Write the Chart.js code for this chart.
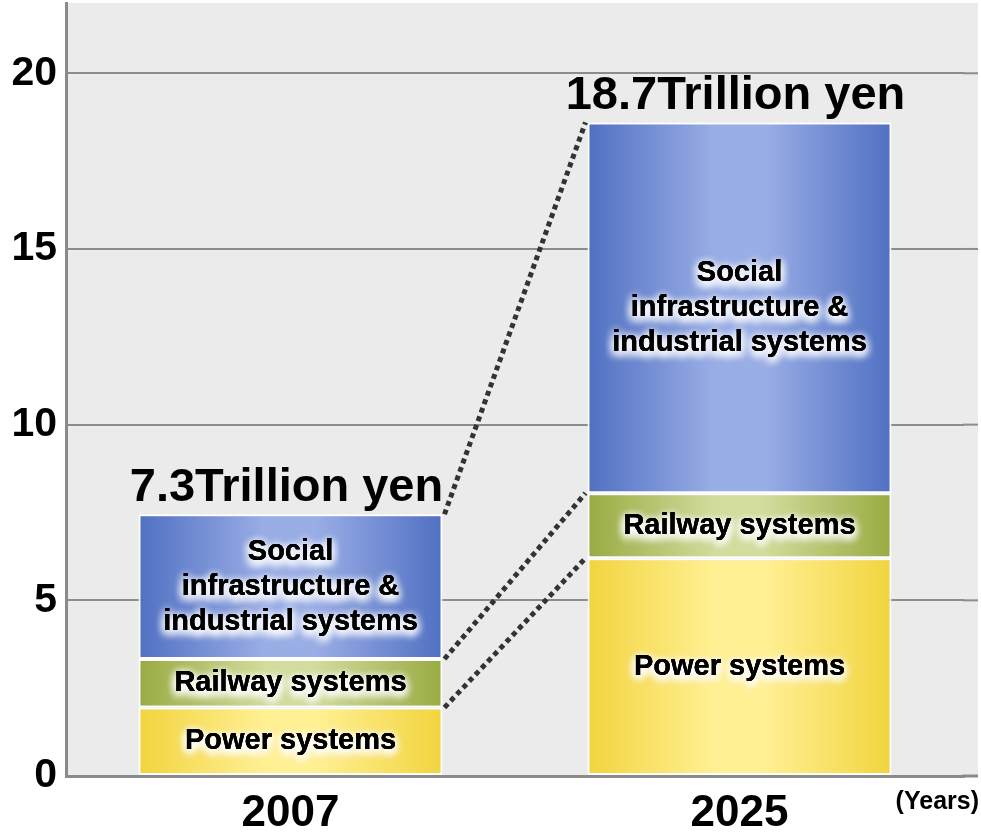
<!DOCTYPE html>
<html><head><meta charset="utf-8">
<script src="https://cdn.jsdelivr.net/npm/chart.js@4.4.1/dist/chart.umd.min.js"></script>
<style>html,body{margin:0;padding:0;background:#fff;}#wrap{width:981px;height:836px;position:relative;}</style>
</head><body><div id="wrap"><canvas id="c"></canvas></div>
<script>
const years = ['2007', '2025'];
const powerSystems = [1.95, 6.2];
const railwaySystems = [1.38, 1.85];
const socialInfra = [4.12, 10.55];
const totalLabels = ['7.3Trillion yen', '18.7Trillion yen'];
const segmentLabels = [['Power systems'], ['Railway systems'], ['Social', 'infrastructure &', 'industrial systems']];
const yTickValues = [0, 5, 10, 15, 20];
const yMax = 22;
const yearUnitLabel = '(Years)';

const FONT = '"Liberation Sans", Arial, Helvetica, sans-serif';
const BAR_PCT = 0.677;

function grad(edge, mid) {
  return (ctx) => {
    const chart = ctx.chart;
    const xs = chart.scales && chart.scales.x;
    if (!xs || !chart.chartArea || ctx.dataIndex === undefined || !xs.ticks || !xs.ticks.length) return edge;
    const cw = xs.width / xs.ticks.length;
    const half = cw * BAR_PCT / 2;
    const cx = xs.getPixelForValue(ctx.dataIndex);
    const g = chart.ctx.createLinearGradient(cx - half, 0, cx + half, 0);
    g.addColorStop(0, edge);
    g.addColorStop(0.42, mid);
    g.addColorStop(0.58, mid);
    g.addColorStop(1, edge);
    return g;
  };
}

const decor = {
  id: 'decor',
  beforeDraw(chart) {
    const {ctx, chartArea} = chart;
    ctx.save();
    ctx.fillStyle = '#ebebeb';
    ctx.fillRect(chartArea.left, chartArea.top, chart.width - 3 - chartArea.left, chartArea.bottom - chartArea.top);
    ctx.restore();
  },
  beforeDatasetsDraw(chart) {
    const {ctx, chartArea} = chart;
    const ys = chart.scales.y;
    ctx.save();
    ctx.strokeStyle = '#8c8c8c';
    ctx.lineWidth = 2;
    yTickValues.forEach(v => {
      if (v === 0) return;
      const y = ys.getPixelForValue(v);
      ctx.beginPath(); ctx.moveTo(chartArea.right - 1, y); ctx.lineTo(chart.width - 3, y); ctx.stroke();
    });
    ctx.strokeStyle = '#8a8a8a';
    ctx.lineWidth = 3;
    const yb = ys.getPixelForValue(0);
    ctx.beginPath(); ctx.moveTo(chartArea.right - 2, yb); ctx.lineTo(chart.width - 3, yb); ctx.stroke();
    ctx.restore();
  },
  afterDatasetsDraw(chart) {
    const ctx = chart.ctx;
    ctx.save();
    ctx.strokeStyle = '#333';
    ctx.lineWidth = 5;
    ctx.setLineDash([5, 4]);
    chart.data.datasets.forEach((ds, i) => {
      const m = chart.getDatasetMeta(i);
      const a = m.data[0], b = m.data[1];
      ctx.beginPath();
      ctx.moveTo(a.x + a.width / 2 + 2, a.y);
      ctx.lineTo(b.x - b.width / 2 - 2, b.y);
      ctx.stroke();
    });
    ctx.setLineDash([]);
    ctx.textAlign = 'center';
    ctx.textBaseline = 'middle';
    ctx.font = 'bold 29px ' + FONT;
    chart.data.datasets.forEach((ds, i) => {
      const m = chart.getDatasetMeta(i);
      const lines = segmentLabels[i];
      const lh = 35;
      m.data.forEach(el => {
        const cy = (el.y + el.base) / 2;
        lines.forEach((t, k) => {
          const y = cy + (k - (lines.length - 1) / 2) * lh;
          ctx.fillStyle = '#000';
          ctx.shadowColor = 'rgba(255,255,255,1)';
          ctx.shadowBlur = 10;
          ctx.shadowOffsetY = 3;
          for (let r = 0; r < 4; r++) ctx.fillText(t, el.x, y);
          ctx.shadowColor = 'transparent';
          ctx.shadowBlur = 0; ctx.shadowOffsetY = 0;
          ctx.fillText(t, el.x, y);
        });
      });
    });
    const top = chart.getDatasetMeta(chart.data.datasets.length - 1);
    ctx.font = 'bold 47px ' + FONT;
    ctx.textBaseline = 'alphabetic';
    ctx.fillStyle = '#000';
    top.data.forEach((el, j) => {
      ctx.fillText(totalLabels[j], el.x - 4, el.y - 13);
    });
    ctx.font = 'bold 25px ' + FONT;
    ctx.textAlign = 'right';
    ctx.fillText(yearUnitLabel, chart.width - 2, 809);
    ctx.restore();
  }
};

new Chart(document.getElementById('c'), {
  type: 'bar',
  data: {
    labels: years,
    datasets: [
      {label: 'Power systems', data: powerSystems, backgroundColor: grad('#f2d43e', '#fff094')},
      {label: 'Railway systems', data: railwaySystems, backgroundColor: grad('#98ab42', '#d2dc9c')},
      {label: 'Social infrastructure & industrial systems', data: socialInfra, backgroundColor: grad('#5070c2', '#9aaee6')}
    ]
  },
  options: {
    responsive: true,
    maintainAspectRatio: false,
    animation: false,
    devicePixelRatio: 1,
    layout: {padding: {top: 3, right: 17, left: 0, bottom: 0}},
    datasets: {bar: {categoryPercentage: 1, barPercentage: BAR_PCT, borderColor: '#ffffff', borderWidth: 2, borderSkipped: false}},
    plugins: {legend: {display: false}, tooltip: {enabled: false}},
    scales: {
      x: {
        stacked: true,
        grid: {display: false, drawTicks: false},
        border: {display: true, color: '#8a8a8a', width: 3},
        ticks: {color: '#000', font: {family: FONT, size: 44, weight: 'bold', lineHeight: 1}, padding: 16},
        afterFit: (s) => { s.height = 60; s.paddingLeft = 0; s.paddingRight = 0; }
      },
      y: {
        stacked: true,
        min: 0,
        max: yMax,
        afterBuildTicks: (s) => { s.ticks = yTickValues.map(v => ({value: v})); },
        grid: {color: '#8c8c8c', lineWidth: 2, drawTicks: false},
        border: {display: true, color: '#8a8a8a', width: 3},
        ticks: {color: '#000', font: {family: FONT, size: 41, weight: 'bold'}, padding: 9},
        afterFit: (s) => { s.width = 66; s.paddingTop = 0; s.paddingBottom = 0; }
      }
    }
  },
  plugins: [decor]
});
</script>
</body></html>
